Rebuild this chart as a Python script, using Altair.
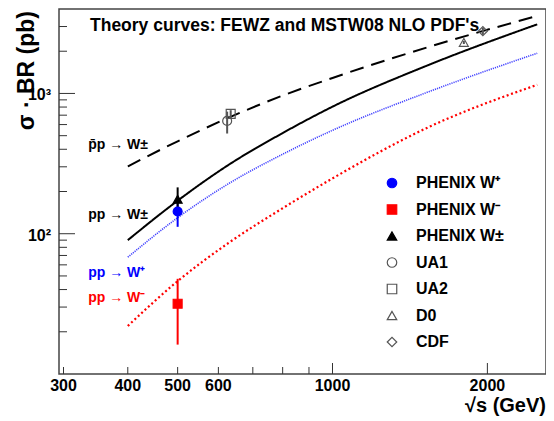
import altair as alt
import pandas as pd

# ---- theory curves (sqrt(s) in GeV, sigma*BR in pb) ----
energy = [400, 500, 630, 800, 1000, 1540, 2500]
ppbar_wpm = [302, 456, 675, 966, 1290, 2150, 3570]
pp_wpm = [90, 172, 312, 522, 805, 1600, 3110]
pp_wp = [68, 130, 229, 369, 546, 1030, 1936]
pp_wm = [22, 45.9, 86.7, 152, 248, 577, 1153]

# ---- measurements ----
exp_names = ["PHENIX W⁺", "PHENIX W⁻", "PHENIX W±", "UA1", "UA2", "D0", "CDF"]
exp_x = [500, 500, 500, 624, 634, 1800, 1960]
exp_y = [144, 31.7, 176, 637, 715, 2310, 2780]
exp_lo = [112, 16.2, 140, 518, 670, 2250, 2620]
exp_hi = [175, 47.7, 214, 742, 760, 2370, 2940]

shape_range = ["circle", "square", "triangle-up", "circle", "square", "triangle-up", "diamond"]
fill_range = ["#0000ff", "#ff0000", "#000000", "transparent", "transparent", "transparent", "transparent"]
stroke_range = ["#0000ff", "#ff0000", "#000000", "#555555", "#555555", "#555555", "#555555"]

# ---- curve labels ----
label_text = ["p̄p → W±", "pp → W±", "pp → W⁺", "pp → W⁻"]
label_x = [335, 335, 335, 335]
label_y = [428, 135, 52.3, 34.7]
label_color = ["#000000", "#000000", "#0000ff", "#ff0000"]

# ---- ticks and tick labels ----
y_minor = [20, 30, 40, 50, 60, 70, 80, 90, 200, 300, 400, 500, 600, 700, 800, 900, 2000, 3000]
y_major = [100, 1000]
y_major_text = ["10²", "10³"]
x_minor = [300, 400, 500, 600, 700, 800, 900]
x_major = [1000, 2000]
x_labels = [300, 400, 500, 600, 1000, 2000]

title_text = "Theory curves: FEWZ and MSTW08 NLO PDF's"
x_title = "√s (GeV)"
y_title = "σ\u00a0·\u00a0BR (pb)"

W, H = 487, 365
FONT = "Liberation Sans"

xscale = alt.Scale(type="log", domain=[294, 2600], nice=False)
yscale = alt.Scale(type="log", domain=[10, 4000], nice=False)

curves = pd.DataFrame({
    "e": energy * 4,
    "s": ppbar_wpm + pp_wpm + pp_wp + pp_wm,
    "c": ["ppbar"] * len(energy) + ["wpm"] * len(energy) + ["wp"] * len(energy) + ["wm"] * len(energy),
})


def curve(key, color, dash, width):
    return alt.Chart(curves).transform_filter(alt.datum.c == key).mark_line(
        color=color, strokeDash=dash, strokeWidth=width, interpolate="monotone"
    ).encode(
        x=alt.X("e:Q", scale=xscale, axis=None),
        y=alt.Y("s:Q", scale=yscale, axis=None),
    )


c_ppbar = curve("ppbar", "#000000", [14, 8], 2)
c_wpm = curve("wpm", "#000000", [1, 0], 2)
c_wp = curve("wp", "#4444ff", [1.2, 1], 1.6)
c_wm = curve("wm", "#ff0000", [2, 2.6], 2.2)

pts = pd.DataFrame({"exp": exp_names, "x": exp_x, "y": exp_y, "lo": exp_lo, "hi": exp_hi,
                    "col": stroke_range})

errbars = alt.Chart(pts).mark_rule(strokeWidth=2).encode(
    x=alt.X("x:Q", scale=xscale, axis=None),
    y=alt.Y("lo:Q", scale=yscale, axis=None),
    y2="hi:Q",
    color=alt.Color("col:N", scale=None),
)

leg = alt.Legend(orient="none", legendX=325, legendY=166, title=None, padding=0,
                 labelFontSize=16, labelFontWeight="bold", labelColor="black",
                 symbolSize=90, symbolStrokeWidth=1.2, rowPadding=10.5, labelOffset=16)

points = alt.Chart(pts).mark_point(filled=True, size=80, strokeWidth=1.2, opacity=1).encode(
    x=alt.X("x:Q", scale=xscale, axis=None),
    y=alt.Y("y:Q", scale=yscale, axis=None),
    shape=alt.Shape("exp:N", scale=alt.Scale(domain=exp_names, range=shape_range), legend=leg),
    fill=alt.Fill("exp:N", scale=alt.Scale(domain=exp_names, range=fill_range), legend=leg),
    stroke=alt.Stroke("exp:N", scale=alt.Scale(domain=exp_names, range=stroke_range), legend=leg),
)

labels_df = pd.DataFrame({"t": label_text, "x": label_x, "y": label_y, "col": label_color})
labels = alt.Chart(labels_df).mark_text(align="left", baseline="middle",
                                        fontSize=14, fontWeight="bold").encode(
    x=alt.X("x:Q", scale=xscale, axis=None),
    y=alt.Y("y:Q", scale=yscale, axis=None),
    text="t:N",
    color=alt.Color("col:N", scale=None),
)

title = alt.Chart(pd.DataFrame({"t": [title_text]})).mark_text(
    align="left", baseline="middle", fontSize=17.5, fontWeight="bold", color="black"
).encode(x=alt.value(31), y=alt.value(17), text="t:N")

# axis tick labels and titles as text
xlab = alt.Chart(pd.DataFrame({"v": x_labels})).mark_text(
    baseline="middle", align="center", fontSize=16, fontWeight="bold", color="black"
).encode(x=alt.X("v:Q", scale=xscale, axis=None), y=alt.value(H + 12), text=alt.Text("v:Q", format="d"))

ylab = alt.Chart(pd.DataFrame({"v": y_major, "t": y_major_text})).mark_text(
    baseline="middle", align="right", fontSize=16, fontWeight="bold", color="black", dy=2
).encode(y=alt.Y("v:Q", scale=yscale, axis=None), x=alt.value(-8), text="t:N")

xtitle = alt.Chart(pd.DataFrame({"t": [x_title]})).mark_text(
    baseline="alphabetic", align="right", fontSize=20, fontWeight="bold", color="black"
).encode(x=alt.value(W), y=alt.value(H + 38), text="t:N")

ytitle = alt.Chart(pd.DataFrame({"t": [y_title]})).mark_text(
    baseline="middle", align="right", angle=270, fontSize=23, fontWeight="bold", color="black"
).encode(x=alt.value(-32), y=alt.value(2), text="t:N")

ymin_df = pd.DataFrame({"v": y_minor})
ymaj_df = pd.DataFrame({"v": y_major})
xmin_df = pd.DataFrame({"v": x_minor})
xmaj_df = pd.DataFrame({"v": x_major})

ytick_min = alt.Chart(ymin_df).mark_rule(color="#333", strokeWidth=1).encode(
    y=alt.Y("v:Q", scale=yscale, axis=None), x=alt.value(0), x2=alt.value(8))
ytick_maj = alt.Chart(ymaj_df).mark_rule(color="#333", strokeWidth=1).encode(
    y=alt.Y("v:Q", scale=yscale, axis=None), x=alt.value(0), x2=alt.value(16))
xtick_min = alt.Chart(xmin_df).mark_rule(color="#333", strokeWidth=1).encode(
    x=alt.X("v:Q", scale=xscale, axis=None), y=alt.value(H), y2=alt.value(H - 7))
xtick_maj = alt.Chart(xmaj_df).mark_rule(color="#333", strokeWidth=1).encode(
    x=alt.X("v:Q", scale=xscale, axis=None), y=alt.value(H), y2=alt.value(H - 11))

chart = alt.layer(
    c_ppbar, c_wpm, c_wp, c_wm, errbars, points, labels, title,
    ytick_min, ytick_maj, xtick_min, xtick_maj, xlab, ylab, xtitle, ytitle,
).properties(
    width=W, height=H,
    autosize=alt.AutoSizeParams(type="none"),
    padding={"left": 51, "top": 1, "right": 0, "bottom": 44},
    background="white",
).configure(font=FONT).configure_view(stroke="#444444", strokeWidth=1.5)

chart.save("out.html", embed_options={"renderer": "svg", "actions": False})
